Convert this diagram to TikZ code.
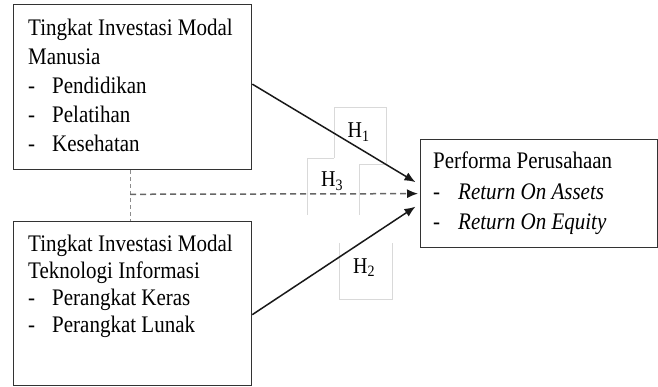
\documentclass[tikz,border=0pt]{standalone}
\usepackage{fontspec}
\usepackage{graphicx}
\setmainfont{Liberation Serif}
\usetikzlibrary{calc,arrows.meta}
\newcommand{\vtxt}[1]{\scalebox{1}[1.13]{#1}}
\begin{document}
\begin{tikzpicture}[x=1pt,y=-1pt,
  box/.style={draw=black!80, line width=1.3pt, fill=white, inner sep=0pt, anchor=north west},
  txt/.style={anchor=base west, inner sep=0pt, font=\fontsize{21}{25}\selectfont},
  lbl/.style={anchor=base west, inner sep=0pt, font=\fontsize{20}{24}\selectfont},
  arr/.style={draw=black!90, line width=1.5pt, -{Latex[length=11pt,width=9pt]}},
  darr/.style={draw=black!60, line width=1.5pt, dash pattern=on 6pt off 4pt, -{Latex[length=11pt,width=9pt,color=black!90]}},
  vdash/.style={draw=black!45, line width=0.8pt, dash pattern=on 4pt off 3pt},
  lbox/.style={draw=black!15, line width=0.8pt}]
\useasboundingbox (0,0) rectangle (658,387);
% label frames
\draw[lbox] (334,158) -- (334,107) -- (386,107) -- (386,164);
\draw[lbox] (307.5,215) -- (307.5,158) -- (334,158);
\draw[lbox] (359,215) -- (359,164) -- (386,164);
\draw[lbox] (339,243) -- (339,299.5) -- (392,299.5) -- (392,243);
% boxes
\node[box, minimum width=238pt, minimum height=165pt] (b1) at (13,4) {};
\node[box, minimum width=238pt, minimum height=164pt] (b2) at (13,221) {};
\node[box, minimum width=237pt, minimum height=108pt] (b3) at (419.5,139) {};
% box 1 text
\node[txt] (t11) at (28,36) {\vtxt{Tingkat Investasi Modal}};
\node[txt] (t12) at (28,64.5) {\vtxt{Manusia}};
\node[txt] (d13) at (28,93.5) {\vtxt{-}};
\node[txt] (t13) at (52,93.5) {\vtxt{Pendidikan}};
\node[txt] (d14) at (28,122.5) {\vtxt{-}};
\node[txt] (t14) at (52,122.5) {\vtxt{Pelatihan}};
\node[txt] (d15) at (28,151.5) {\vtxt{-}};
\node[txt] (t15) at (52,151.5) {\vtxt{Kesehatan}};
% box 2 text
\node[txt] (t21) at (28,251.5) {\vtxt{Tingkat Investasi Modal}};
\node[txt] (t22) at (28,278.5) {\vtxt{Teknologi Informasi}};
\node[txt] (d23) at (28,305) {\vtxt{-}};
\node[txt] (t23) at (52,305) {\vtxt{Perangkat Keras}};
\node[txt] (d24) at (28,332) {\vtxt{-}};
\node[txt] (t24) at (52,332) {\vtxt{Perangkat Lunak}};
% box 3 text
\node[txt] (t31) at (433,169) {\vtxt{Performa Perusahaan}};
\node[txt] (d32) at (433,200) {\vtxt{-}};
\node[txt] (t32) at (458,200) {\vtxt{\itshape Return On Assets}};
\node[txt] (d33) at (433,229.5) {\vtxt{-}};
\node[txt] (t33) at (458,229.5) {\vtxt{\itshape Return On Equity}};
% connectors
\coordinate (j) at ($(b1.south west)+(117,24)$);
\draw[vdash] ($(b1.south west)+(117,0)$) -- ($(b2.north west)+(117,0)$);
\draw[darr] (j) -- ($(b3.west)+(-1.5,0)$);
\draw[arr] ($(b1.east)+(0,-3)$) -- ($(b3.west)+(-4,-11.5)$);
\draw[arr] ($(b2.east)+(0,11)$) -- ($(b3.west)+(-4,13)$);
% labels
\node[lbl] (h1) at (347.5,137.5) {\vtxt{H\textsubscript{1}}};
\node[lbl] (h3) at (321,186.5) {\vtxt{H\textsubscript{3}}};
\node[lbl] (h2) at (353,273) {\vtxt{H\textsubscript{2}}};
\end{tikzpicture}
\end{document}
